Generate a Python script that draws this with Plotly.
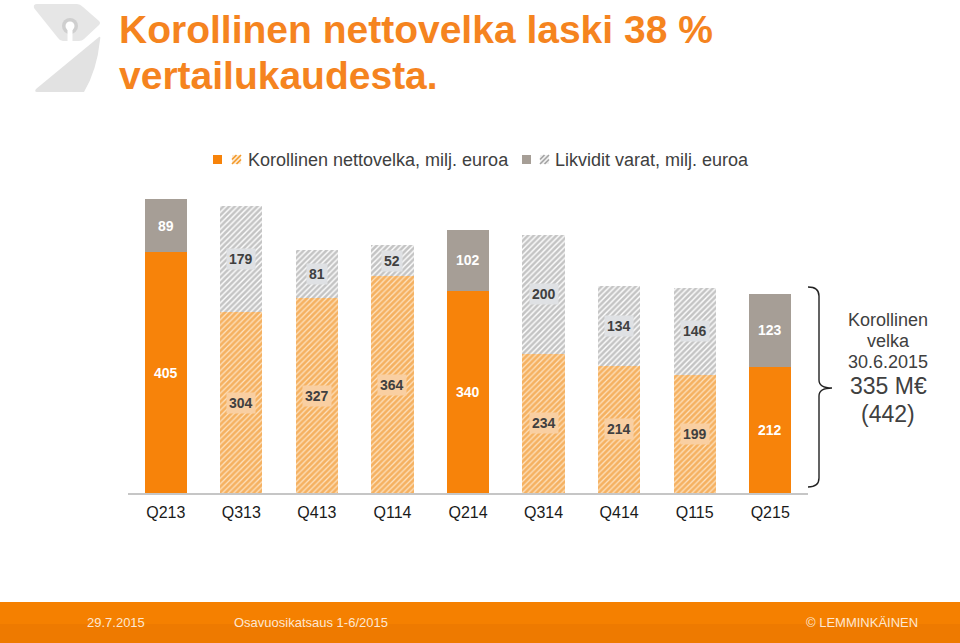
import plotly.graph_objects as go

# ---------------- data ----------------
quarters = ["Q213", "Q313", "Q413", "Q114", "Q214", "Q314", "Q414", "Q115", "Q215"]
net_debt = [405, 304, 327, 364, 340, 234, 214, 199, 212]      # Korollinen nettovelka
liquid = [89, 179, 81, 52, 102, 200, 134, 146, 123]           # Likvidit varat
legend_names = ["Korollinen nettovelka, milj. euroa", "Likvidit varat, milj. euroa"]
side_lines_small = ["Korollinen", "velka", "30.6.2015"]
side_lines_big = ["335 M€", "(442)"]
title_lines = ["Korollinen nettovelka laski 38 %", "vertailukaudesta."]
footer_texts = ["29.7.2015", "Osavuosikatsaus 1-6/2015", "© LEMMINKÄINEN"]

# ---------------- style ----------------
FONT = "Liberation Sans, Arial, sans-serif"
ORANGE = "#f7830a"
GRAY = "#a69e96"
TXT = "#404040"

W, H = 960, 643
L, R, T, B = 128, 152, 183, 150
PW, PH = W - L - R, H - T - B
BASE = H - B


def PX(x):
    return (x - L) / PW


def PY(y):
    return (BASE - y) / PH


is_solid = [q.startswith("Q2") for q in quarters]


def pick(vals, solid):
    return [v if s == solid else None for v, s in zip(vals, is_solid)]


fig = go.Figure()
hatch_orange = dict(shape="/", fgcolor="#ee7f00", bgcolor="#fde3c2", size=4, solidity=0.7)
hatch_gray = dict(shape="/", fgcolor="#8a8a8a", bgcolor="#ffffff", size=4, solidity=0.65)

fig.add_trace(go.Bar(x=quarters, y=pick(net_debt, True), name=legend_names[0],
                     marker=dict(color=ORANGE, line=dict(width=0))))
fig.add_trace(go.Bar(x=quarters, y=pick(net_debt, False), name=legend_names[0],
                     marker=dict(color="#fde3c2", pattern=hatch_orange, line=dict(width=0))))
fig.add_trace(go.Bar(x=quarters, y=pick(liquid, True), name=legend_names[1],
                     marker=dict(color=GRAY, line=dict(width=0))))
fig.add_trace(go.Bar(x=quarters, y=pick(liquid, False), name=legend_names[1],
                     marker=dict(color="#ffffff", pattern=hatch_gray, line=dict(width=0))))

annotations = []
# value labels
for q, nd, lq, s in zip(quarters, net_debt, liquid, is_solid):
    for base, v, kind in ((0, nd, "o"), (nd, lq, "g")):
        if s:
            annotations.append(dict(x=q, y=base + v / 2, xref="x", yref="y", text=str(v),
                                    showarrow=False, font=dict(family=FONT, size=14, color="white", weight="bold")))
        else:
            annotations.append(dict(x=q, y=base + v / 2, xref="x", yref="y", text=str(v),
                                    showarrow=False, bgcolor="#f9cfa2" if kind == "o" else "#dfe1e4",
                                    borderpad=2,
                                    font=dict(family=FONT, size=14, color=TXT, weight="bold")))

# title
for txt, yc in zip(title_lines, (30, 75)):
    annotations.append(dict(x=PX(117), y=PY(yc), xref="paper", yref="paper", xanchor="left", yanchor="middle",
                            text=txt, showarrow=False,
                            font=dict(family=FONT, size=39, color="#f5841f", weight="bold")))

# legend texts
for txt, x0 in zip(legend_names, (246, 553)):
    annotations.append(dict(x=PX(x0), y=PY(160), xref="paper", yref="paper", xanchor="left", yanchor="middle",
                            text=txt, showarrow=False, font=dict(family=FONT, size=18, color=TXT)))

# side text
for txt, yc in zip(side_lines_small, (320, 341, 362)):
    annotations.append(dict(x=PX(888), y=PY(yc), xref="paper", yref="paper", xanchor="center", yanchor="middle",
                            text=txt, showarrow=False, font=dict(family=FONT, size=18, color=TXT)))
for txt, yc in zip(side_lines_big, (386, 414)):
    annotations.append(dict(x=PX(888), y=PY(yc), xref="paper", yref="paper", xanchor="center", yanchor="middle",
                            text=txt, showarrow=False, font=dict(family=FONT, size=23, color=TXT)))

# footer texts
for txt, x0, anc in zip(footer_texts, (85, 232, 920), ("left", "left", "right")):
    annotations.append(dict(x=PX(x0), y=PY(622), xref="paper", yref="paper", xanchor=anc, yanchor="middle",
                            text=txt, showarrow=False, font=dict(family=FONT, size=13, color="#fde7d2")))

shapes = []


def rect(x0, y0, x1, y1, color, layer="above"):
    shapes.append(dict(type="rect", xref="paper", yref="paper", x0=PX(x0), x1=PX(x1), y0=PY(y1), y1=PY(y0),
                       fillcolor=color, line=dict(width=0), layer=layer))


def line(x0, y0, x1, y1, color, w=1.2):
    shapes.append(dict(type="line", xref="paper", yref="paper", x0=PX(x0), x1=PX(x1), y0=PY(y0), y1=PY(y1),
                       line=dict(color=color, width=w)))


def path(pts, fill=None, color=None, w=0, closed=True):
    d = ""
    for i, p in enumerate(pts):
        if p[0] == "Q":
            d += f" Q {PX(p[1])},{PY(p[2])} {PX(p[3])},{PY(p[4])}"
        else:
            d += (" M " if i == 0 else " L ") + f"{PX(p[0])},{PY(p[1])}"
    if closed:
        d += " Z"
    shp = dict(type="path", xref="paper", yref="paper", path=d.strip(),
               line=dict(width=w, color=color or "rgba(0,0,0,0)"))
    if fill:
        shp["fillcolor"] = fill
    shapes.append(shp)


# legend symbols
def hatched_square(x0, y0, s, fg, bg):
    rect(x0, y0, x0 + s, y0 + s, bg)
    h = s / 2
    line(x0, y0 + s, x0 + s, y0, fg, 1.6)
    line(x0, y0 + h, x0 + h, y0, fg, 1.6)
    line(x0 + h, y0 + s, x0 + s, y0 + h, fg, 1.6)


rect(213, 155, 222, 164, ORANGE)
hatched_square(232, 155, 9, "#f39a2a", "#fde9d2")
rect(522, 155, 531, 164, GRAY)
hatched_square(540, 155, 9, "#a3a3a3", "#f0f0f0")

# brace
path([(808, 287), ("Q", 819, 287, 819, 296), (819, 380), ("Q", 819, 388, 832, 388),
      ("Q", 819, 388, 819, 396), (819, 478), ("Q", 819, 487, 808, 487)], color="#222222", w=1.4, closed=False)

# footer band
rect(0, 602, 960, 643, "#f58000", layer="below")
rect(0, 624, 960, 643, "#ee7a00", layer="below")

# logo
path([(37, 4), (77, 4), ("Q", 80, 4, 83, 7), (99, 21), ("Q", 101, 23, 99, 25), (84, 39), ("Q", 82, 41, 79, 41),
      (63, 41), ("Q", 60, 41, 58, 38), (34, 8), ("Q", 33, 4, 37, 4)], fill="#e6e6e6")
shapes.append(dict(type="circle", xref="paper", yref="paper", x0=PX(62), x1=PX(78), y0=PY(34), y1=PY(18),
                   fillcolor="#cfcfcf", line=dict(width=0)))
shapes.append(dict(type="circle", xref="paper", yref="paper", x0=PX(65.5), x1=PX(74.5), y0=PY(30.5), y1=PY(21.5),
                   fillcolor="#ffffff", line=dict(width=0)))
rect(67.5, 29, 72.5, 41, "#ffffff")
path([(99, 37), ("Q", 101, 36, 100, 40), ("Q", 97, 70, 84, 92), (37, 92), ("Q", 34, 92, 36, 89)], fill="#e2e2e2")

fig.update_layout(
    width=W, height=H, margin=dict(l=L, r=R, t=T, b=B),
    barmode="stack", bargap=0.44, showlegend=False,
    paper_bgcolor="white", plot_bgcolor="white",
    xaxis=dict(showline=True, linecolor="#c6c6c6", linewidth=2, ticks="", showgrid=False,
               ticklabelstandoff=4,
               tickfont=dict(family=FONT, size=16, color="#1a1a1a"), fixedrange=True),
    yaxis=dict(visible=False, range=[0, PH / 0.595], showgrid=False, fixedrange=True),
    annotations=annotations, shapes=shapes,
)

fig.write_html("out.html", config={"displayModeBar": False},
               post_script="document.body.style.margin='0';document.body.style.overflow='hidden';")
